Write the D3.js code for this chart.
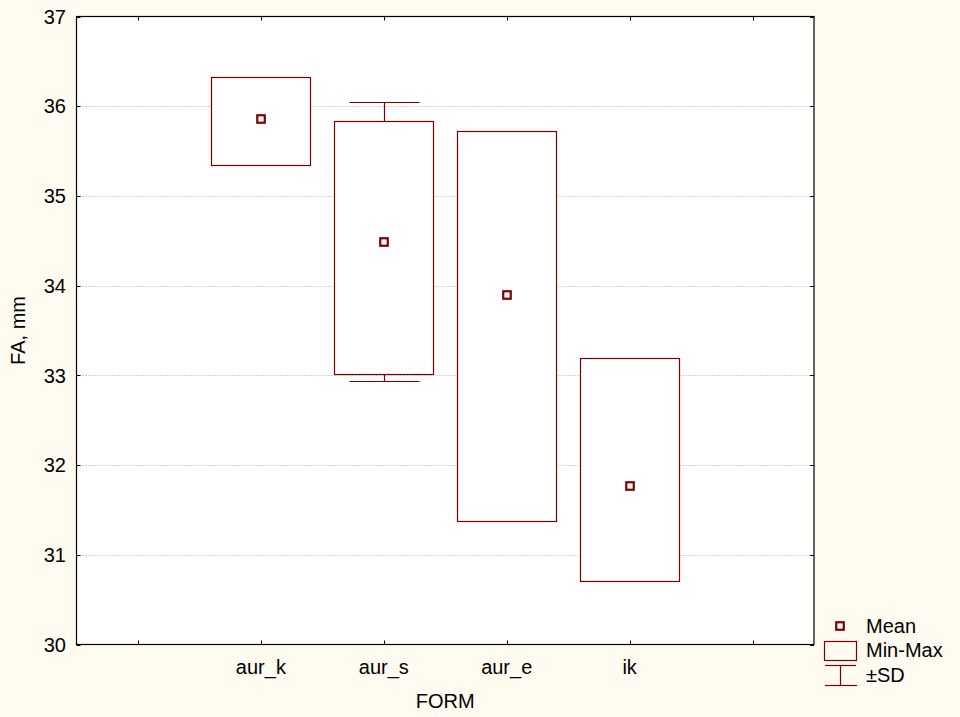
<!DOCTYPE html>
<html><head><meta charset="utf-8">
<script src="https://cdn.jsdelivr.net/npm/d3@7"></script>
<style>
body{margin:0;background:#fffbf0;}
svg{display:block;font-family:"Liberation Sans",Arial,sans-serif;}
</style></head>
<body><svg id="chart" width="960" height="717"></svg>
<script>
const categories = ["aur_k", "aur_s", "aur_e", "ik"];
const means = [35.86, 34.49, 33.90, 31.77];
const minVals = [35.35, 33.01, 31.38, 30.71];
const maxVals = [36.33, 35.84, 35.72, 33.19];
const sdVals = [0.30, 1.555, 1.20, 0.85];
const yTicks = [30, 31, 32, 33, 34, 35, 36, 37];
const yLabel = "FA, mm";
const xLabel = "FORM";
const legendLabels = ["Mean", "Min-Max", "\u00b1SD"];

const color = "#800000";
const svg = d3.select("#chart");
const L = 76.5, R = 814, T = 16.5, B = 644.5;

const x = d3.scalePoint().domain(categories).range([L, R]).padding(1.5);
const y = d3.scaleLinear().domain([30, 37]).range([B, T]);
const step = x.step();

// plot background
svg.append("rect").attr("x", L).attr("y", T).attr("width", R - L).attr("height", B - T).attr("fill", "#fff");

// gridlines
svg.append("g").selectAll("line").data(yTicks.filter(d => d > 30 && d < 37)).join("line")
  .attr("x1", L).attr("x2", R)
  .attr("y1", d => Math.round(y(d)) + 0.5).attr("y2", d => Math.round(y(d)) + 0.5)
  .attr("stroke", "#a8a8a8").attr("stroke-dasharray", "1,2").attr("stroke-width", 1);

const data = categories.map((c, i) => ({c, mean: means[i], min: minVals[i], max: maxVals[i], sd: sdVals[i]}));
const boxW = step * 0.805, capW = step * 0.57;

// SD whiskers (drawn beneath box)
const wg = svg.append("g").attr("stroke", color).attr("stroke-width", 1.2).attr("fill", "none");
data.forEach(d => {
  const cx = Math.round(x(d.c)) + 0.5;
  const hi = Math.round(y(d.mean + d.sd)) + 0.5, lo = Math.round(y(d.mean - d.sd)) + 0.5;
  wg.append("line").attr("x1", cx).attr("x2", cx).attr("y1", hi).attr("y2", lo);
  wg.append("line").attr("x1", cx - capW / 2).attr("x2", cx + capW / 2).attr("y1", hi).attr("y2", hi);
  wg.append("line").attr("x1", cx - capW / 2).attr("x2", cx + capW / 2).attr("y1", lo).attr("y2", lo);
});

// Min-Max boxes
svg.append("g").selectAll("rect").data(data).join("rect")
  .attr("x", d => Math.round(x(d.c) - boxW / 2) + 0.5)
  .attr("width", Math.round(boxW))
  .attr("y", d => Math.round(y(d.max)) + 0.5)
  .attr("height", d => Math.round(y(d.min)) - Math.round(y(d.max)))
  .attr("fill", "#fff").attr("stroke", color).attr("stroke-width", 1.2);

// Means
svg.append("g").selectAll("rect").data(data).join("rect")
  .attr("x", d => Math.round(x(d.c)) - 3.75).attr("y", d => Math.round(y(d.mean)) - 3.75)
  .attr("width", 7.5).attr("height", 7.5)
  .attr("fill", "#fff").attr("stroke", color).attr("stroke-width", 2.2);

// axes frame
svg.append("rect").attr("x", L).attr("y", T).attr("width", R - L).attr("height", B - T)
  .attr("fill", "none").attr("stroke", "#000").attr("stroke-width", 1.2);

// ticks
const tickX = [x(categories[0]) - step, ...categories.map(c => x(c)), x(categories[categories.length - 1]) + step];
const tg = svg.append("g").attr("stroke", "#000").attr("stroke-width", 1);
tickX.forEach(tx => {
  const px = Math.round(tx) + 0.5;
  tg.append("line").attr("x1", px).attr("x2", px).attr("y1", B).attr("y2", B - 4);
  tg.append("line").attr("x1", px).attr("x2", px).attr("y1", T).attr("y2", T + 4);
});
yTicks.forEach(v => {
  const py = Math.round(y(v)) + 0.5;
  tg.append("line").attr("x1", L).attr("x2", L + 4).attr("y1", py).attr("y2", py);
  tg.append("line").attr("x1", R).attr("x2", R - 4).attr("y1", py).attr("y2", py);
});

// tick labels
svg.append("g").selectAll("text").data(yTicks).join("text")
  .attr("x", 66).attr("y", d => y(d)).attr("dy", "0.36em")
  .attr("text-anchor", "end").attr("font-size", 20).attr("fill", "#000").text(d => d);
svg.append("g").selectAll("text").data(categories).join("text")
  .attr("x", d => x(d)).attr("y", 674)
  .attr("text-anchor", "middle").attr("font-size", 20).attr("fill", "#000").text(d => d);

// axis titles
svg.append("text").attr("x", (L + R) / 2).attr("y", 708).attr("text-anchor", "middle")
  .attr("font-size", 20).attr("fill", "#000").text(xLabel);
svg.append("text").attr("transform", `translate(25,${(T + B) / 2}) rotate(-90)`)
  .attr("text-anchor", "middle").attr("font-size", 20).attr("fill", "#000").text(yLabel);

// legend
const lg = svg.append("g");
lg.append("rect").attr("x", 836.25).attr("y", 622.25).attr("width", 7.5).attr("height", 7.5)
  .attr("fill", "#fff").attr("stroke", color).attr("stroke-width", 2.2);
lg.append("rect").attr("x", 824.5).attr("y", 641.5).attr("width", 32).attr("height", 19)
  .attr("fill", "none").attr("stroke", color).attr("stroke-width", 1.2);
lg.append("line").attr("x1", 825).attr("x2", 856).attr("y1", 665.5).attr("y2", 665.5).attr("stroke", color).attr("stroke-width", 1.2);
lg.append("line").attr("x1", 825).attr("x2", 857).attr("y1", 685.5).attr("y2", 685.5).attr("stroke", color).attr("stroke-width", 1.2);
lg.append("line").attr("x1", 840.5).attr("x2", 840.5).attr("y1", 665.5).attr("y2", 685.5).attr("stroke", color).attr("stroke-width", 1.2);
const lys = [633, 657, 682];
legendLabels.forEach((t, i) => {
  lg.append("text").attr("x", 866).attr("y", lys[i]).attr("font-size", 20).attr("fill", "#000").text(t);
});
</script></body></html>
